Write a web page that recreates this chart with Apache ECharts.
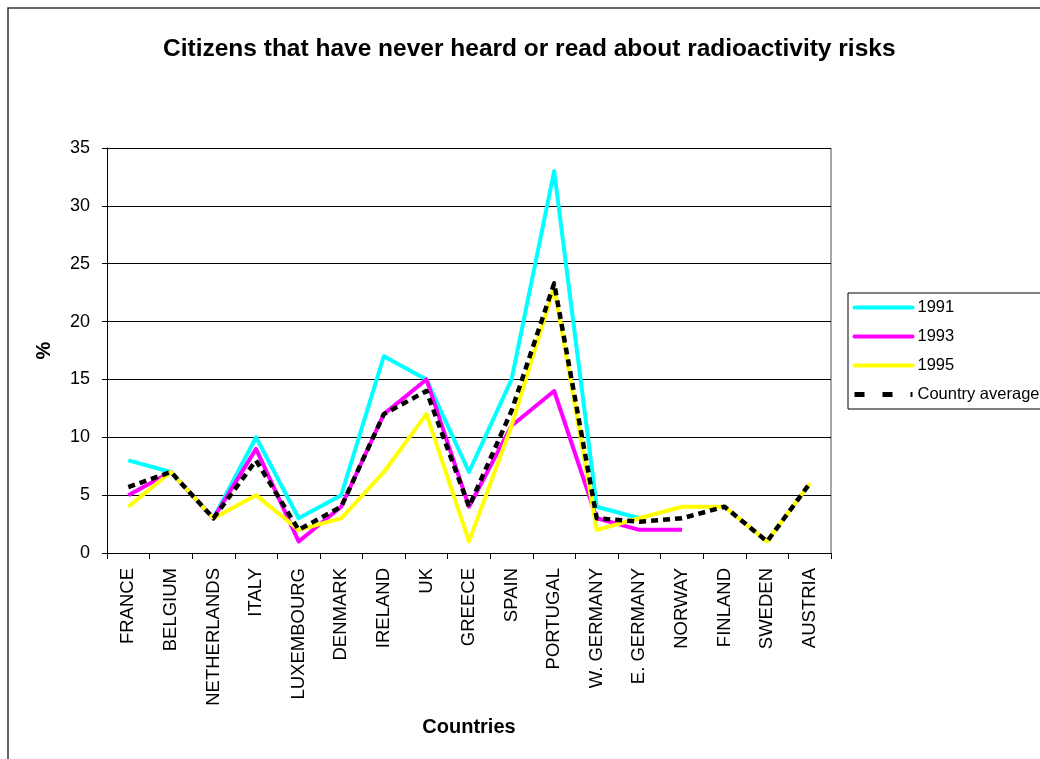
<!DOCTYPE html>
<html>
<head>
<meta charset="utf-8">
<script src="https://cdn.jsdelivr.net/npm/echarts@6/dist/echarts.min.js"></script>
<style>
  html, body { margin: 0; padding: 0; background: #ffffff; }
  #chart { width: 1040px; height: 759px; }
</style>
</head>
<body>
<div id="chart"></div>
<script>
// Share of citizens (%) who have never heard or read about radioactivity risks
const countries = ['FRANCE', 'BELGIUM', 'NETHERLANDS', 'ITALY', 'LUXEMBOURG', 'DENMARK',
  'IRELAND', 'UK', 'GREECE', 'SPAIN', 'PORTUGAL', 'W. GERMANY', 'E. GERMANY',
  'NORWAY', 'FINLAND', 'SWEDEN', 'AUSTRIA'];

const y1991 = [8, 7, 3, 10, 3, 5, 17, 15, 7, 15, 33, 4, 3, null, null, null, null];
const y1993 = [5, 7, 3, 9, 1, 4, 12, 15, 4, 11, 14, 3, 2, 2, null, null, null];
const y1995 = [4, 7, 3, 5, 2, 3, 7, 12, 1, 11, 23, 2, 3, 4, 4, 1, 6];
const countryAverage = [5.7, 7, 3, 8, 2, 4, 12, 14, 4, 12.3, 23.3, 3, 2.7, 3, 4, 1, 6];

const yTicks = [0, 5, 10, 15, 20, 25, 30, 35];

const FONT = '"Liberation Sans", Arial, sans-serif';

const chart = echarts.init(document.getElementById('chart'), null, { renderer: 'canvas' });

function lineSeries(name, data, color, width, dashed, z) {
  return {
    name: name,
    type: 'line',
    data: data,
    symbol: 'none',
    showSymbol: false,
    z: z,
    itemStyle: { color: color },
    lineStyle: { color: color, width: width, type: dashed ? [7, 5] : 'solid', cap: 'butt', join: 'round' },
    emphasis: { disabled: true },
    animation: false
  };
}

chart.setOption({
  backgroundColor: '#ffffff',
  animation: false,
  textStyle: { fontFamily: FONT },
  title: {
    text: 'Citizens that have never heard or read about radioactivity risks',
    left: 158,
    top: 32,
    textStyle: { fontFamily: FONT, fontSize: 24.5, fontWeight: 'bold', color: '#000' }
  },
  graphic: [{
    type: 'rect',
    shape: { x: 8, y: 8, width: 1100, height: 800 },
    style: { fill: 'none', stroke: '#333', lineWidth: 1.5 },
    silent: true,
    z: -10
  }, {
    // right edge of the plot area
    type: 'line',
    shape: { x1: 831, y1: 148, x2: 831, y2: 553 },
    style: { stroke: '#888', lineWidth: 1.5 },
    silent: true
  }],
  legend: {
    orient: 'vertical',
    left: 848,
    top: 293,
    padding: [6, 40, 6, 4],
    itemGap: 12,
    itemWidth: 58,
    itemHeight: 16,
    borderColor: '#000',
    borderWidth: 1,
    backgroundColor: '#fff',
    itemStyle: { opacity: 0 },
    lineStyle: { width: 4, cap: 'round' },
    textStyle: { fontFamily: FONT, fontSize: 16.5, color: '#000', padding: [0, 0, 0, 0] },
    data: [
      { name: '1991' },
      { name: '1993' },
      { name: '1995' },
      { name: 'Country average', lineStyle: { width: 5, type: [10, 18], cap: 'butt' } }
    ]
  },
  grid: { left: 107, right: 209, top: 148, bottom: 206, containLabel: false },
  xAxis: {
    type: 'category',
    data: countries,
    boundaryGap: true,
    name: 'Countries',
    nameLocation: 'middle',
    nameGap: 164,
    nameTextStyle: { fontFamily: FONT, fontSize: 20, fontWeight: 'bold', color: '#000' },
    axisLine: { lineStyle: { color: '#000', width: 1 } },
    axisTick: { show: true, interval: 0, length: 6, lineStyle: { color: '#000' } },
    axisLabel: { interval: 0, rotate: 90, margin: 15, fontFamily: FONT, fontSize: 18.5, color: '#000' },
    splitLine: { show: false }
  },
  yAxis: {
    type: 'value',
    min: 0,
    max: 35,
    interval: 5,
    name: '%',
    nameLocation: 'middle',
    nameGap: 53,
    nameRotate: 90,
    nameTextStyle: { fontFamily: FONT, fontSize: 20, fontWeight: 'bold', color: '#000' },
    axisLine: { show: true, lineStyle: { color: '#000', width: 1 } },
    axisTick: { show: true, length: 5, lineStyle: { color: '#000' } },
    axisLabel: {
      margin: 17, fontFamily: FONT, fontSize: 18, color: '#000',
      formatter: function (v) { return yTicks.indexOf(v) >= 0 ? String(v) : ''; }
    },
    splitLine: { show: true, lineStyle: { color: '#000', width: 1 } }
  },
  series: [
    lineSeries('1991', y1991, '#00FFFF', 4, false, 2),
    lineSeries('1993', y1993, '#FF00FF', 4, false, 3),
    lineSeries('1995', y1995, '#FFFF00', 4, false, 4),
    lineSeries('Country average', countryAverage, '#000000', 4.5, true, 5)
  ]
});
</script>
</body>
</html>
